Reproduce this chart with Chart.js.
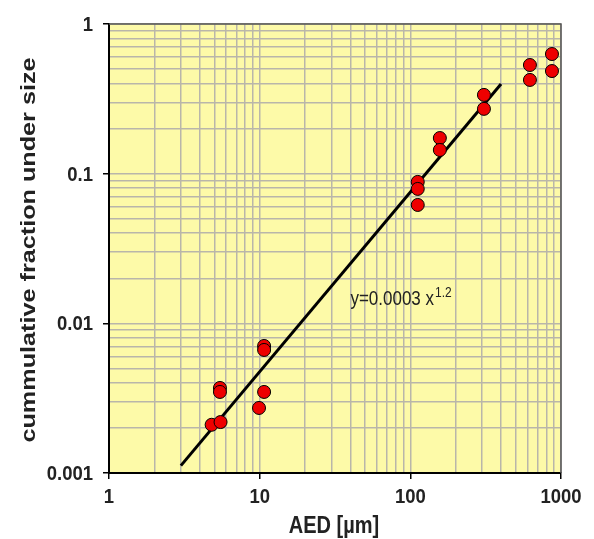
<!DOCTYPE html>
<html>
<head>
<meta charset="utf-8">
<script src="https://cdn.jsdelivr.net/npm/chart.js@4.4.1/dist/chart.umd.min.js"></script>
<style>
    html, body { margin: 0; padding: 0; background: #ffffff; }
    #wrap { width: 594px; height: 539px; }
</style>
</head>
<body>
<div id="wrap"><canvas id="chart" width="594" height="539"></canvas></div>
<script>
// measured points (AED in um, cumulative fraction)
var aed = [4.8, 5.5, 5.45, 5.45, 10.7, 10.7, 10.7, 9.9, 112, 112, 112, 157, 157, 308, 308, 622, 622, 871, 871];
var fraction = [0.0021, 0.00219, 0.0037, 0.00348, 0.00706, 0.00664, 0.00348, 0.00272, 0.0881, 0.0791, 0.0618, 0.173, 0.144, 0.336, 0.271, 0.532, 0.423, 0.63, 0.485];

// fitted line endpoints
var fitX = [3, 400];
var fitY = [0.00112, 0.397];

var xTicks = [1, 10, 100, 1000];
var yTicks = [0.001, 0.01, 0.1, 1];
var xTickLabels = ["1", "10", "100", "1000"];
var yTickLabels = ["0.001", "0.01", "0.1", "1"];

var FONT = "'Liberation Sans', Arial, sans-serif";

function withMinor(majors){
    var out = [];
    var i, k;
    for(i = 0; i < majors.length; i++){
        out.push(majors[i]);
        if(i < majors.length - 1){
            for(k = 2; k < 10; k++){
                out.push(+(majors[i] * k).toPrecision(6));
            }
        }
    }
    return out;
}

function isMajor(list, v){
    for(var i = 0; i < list.length; i++){
        if(Math.abs(list[i] - v) < list[i] * 1e-6) return i;
    }
    return -1;
}

// text drawn taller than wide (source picture is stretched), baseline at (x, y)
function tallText(c, text, x, y, font, align, stretch, rot){
    c.save();
    c.translate(x, y);
    if(rot) c.rotate(rot);
    if(rot) c.scale(stretch, 1); else c.scale(1, stretch);
    c.font = font;
    c.textAlign = align;
    c.textBaseline = "alphabetic";
    c.fillText(text, 0, 0);
    c.restore();
}

var points = aed.map(function(x, i){ return {x: x, y: fraction[i]}; });
var fit = fitX.map(function(x, i){ return {x: x, y: fitY[i]}; });

var plotDecor = {
    id: "plotDecor",
    beforeDraw: function(chart){
        var a = chart.chartArea, c = chart.ctx;
        c.save();
        c.fillStyle = "#fdfaa8";
        c.fillRect(a.left, a.top, a.right - a.left, a.bottom - a.top);
        c.restore();
    },
    afterDatasetsDraw: function(chart){
        var a = chart.chartArea, c = chart.ctx;
        var xs = chart.scales.x, ys = chart.scales.y;
        var i;
        c.save();
        c.strokeStyle = "#555555";
        c.lineWidth = 1.5;
        c.beginPath();
        c.moveTo(a.left, a.top);
        c.lineTo(a.right, a.top);
        c.lineTo(a.right, a.bottom);
        c.stroke();

        c.fillStyle = "#222222";
        // tick labels
        var tickFont = "bold 18.5px " + FONT;
        for(i = 0; i < xTicks.length; i++){
            tallText(c, xTickLabels[i], xs.getPixelForValue(xTicks[i]), a.bottom + 30, tickFont, "center", 1.08);
        }
        for(i = 0; i < yTicks.length; i++){
            tallText(c, yTickLabels[i], 93, ys.getPixelForValue(yTicks[i]) + 7, tickFont, "right", 1.08);
        }

        // axis titles
        var titleFont = "bold 20px " + FONT;
        tallText(c, "AED [µm]", (a.left + a.right) / 2 - 1, 533, titleFont, "center", 1.18);
        tallText(c, "cummulative fraction under size", 35, 250, titleFont, "center", 1.26, -Math.PI / 2);

        // equation label
        var px = xs.getPixelForValue(40), py = ys.getPixelForValue(0.0133);
        tallText(c, "y=0.0003 x", px, py, "17px " + FONT, "left", 1.15);
        c.font = "17px " + FONT;
        var w = c.measureText("y=0.0003 x").width;
        tallText(c, "1.2", px + w + 1, py - 8, "12px " + FONT, "left", 1.15);
        c.restore();
    }
};

var ctx = document.getElementById("chart");

new Chart(ctx, {
    type: "scatter",
    data: {
        datasets: [
            {
                data: fit,
                type: "line",
                showLine: true,
                borderColor: "#000000",
                borderWidth: 3,
                pointRadius: 0,
                fill: false,
                order: 2
            },
            {
                data: points,
                backgroundColor: "#ee0000",
                borderColor: "#000000",
                borderWidth: 1,
                pointRadius: 6.5,
                pointHoverRadius: 6.5,
                order: 1
            }
        ]
    },
    options: {
        responsive: false,
        animation: false,
        clip: false,
        layout: { padding: { left: 0, top: 24, right: 33, bottom: 0 } },
        plugins: {
            legend: { display: false },
            tooltip: { enabled: false }
        },
        scales: {
            x: {
                type: "logarithmic",
                min: 1,
                max: 1000,
                afterBuildTicks: function(scale){
                    scale.ticks = withMinor(xTicks).map(function(v){ return {value: v}; });
                },
                afterFit: function(scale){ scale.height = 66; },
                grid: {
                    color: "#b9b6aa",
                    lineWidth: 1.5,
                    drawTicks: true,
                    tickLength: 6,
                    tickColor: function(c){
                        return isMajor(xTicks, c.tick.value) >= 0 ? "#000000" : "rgba(0,0,0,0)";
                    }
                },
                border: { color: "#000000", width: 2 },
                ticks: { display: false, autoSkip: false, maxRotation: 0 }
            },
            y: {
                type: "logarithmic",
                min: 0.001,
                max: 1,
                afterBuildTicks: function(scale){
                    scale.ticks = withMinor(yTicks).map(function(v){ return {value: v}; });
                },
                afterFit: function(scale){ scale.width = 109; },
                grid: {
                    color: "#b9b6aa",
                    lineWidth: 1.5,
                    drawTicks: true,
                    tickLength: 6,
                    tickColor: function(c){
                        return isMajor(yTicks, c.tick.value) >= 0 ? "#000000" : "rgba(0,0,0,0)";
                    }
                },
                border: { color: "#000000", width: 2 },
                ticks: { display: false, autoSkip: false }
            }
        }
    },
    plugins: [plotDecor]
});
</script>
</body>
</html>
